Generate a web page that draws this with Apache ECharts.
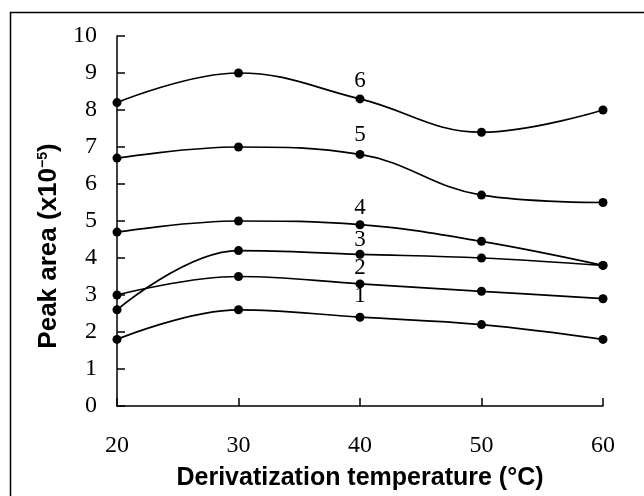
<!DOCTYPE html>
<html>
<head>
<meta charset="utf-8">
<script src="https://cdn.jsdelivr.net/npm/echarts@6/dist/echarts.min.js"></script>
<style>
  html, body { margin: 0; padding: 0; background: #fff; }
  #chart { width: 644px; height: 496px; }
</style>
</head>
<body>
<div id="chart"></div>
<script>
// derivatization temperature (°C)
const temps = [20, 30, 40, 50, 60];

// peak area (x10^-5), one curve per compound
const curve1 = [1.8, 2.6, 2.4, 2.2, 1.8];
const curve2 = [3.0, 3.5, 3.3, 3.1, 2.9];
const curve3 = [2.6, 4.2, 4.1, 4.0, 3.8];
const curve4 = [4.7, 5.0, 4.9, 4.45, 3.8];
const curve5 = [6.7, 7.0, 6.8, 5.7, 5.5];
const curve6 = [8.2, 9.0, 8.3, 7.4, 8.0];

const curveNames = ['1', '2', '3', '4', '5', '6'];
const curves = [curve1, curve2, curve3, curve4, curve5, curve6];

// how far the number label sits above the 40 °C point
const labelGap = [5, 0, -2, 1, 3, 2];

const chart = echarts.init(document.getElementById('chart'));

const series = curves.map((vals, i) => ({
    name: curveNames[i],
    type: 'line',
    smooth: 0.4,
    symbol: 'circle',
    symbolSize: 9,
    lineStyle: { color: '#000', width: 1.7 },
    itemStyle: { color: '#000' },
    emphasis: { disabled: true },
    data: vals.map((v, j) => {
        const item = { value: [temps[j], v] };
        if (j === 2) {
            item.label = {
                show: true,
                position: 'top',
                distance: labelGap[i],
                formatter: curveNames[i],
                color: '#000',
                fontFamily: 'Liberation Serif',
                fontSize: 23
            };
        }
        return item;
    })
}));

const option = {
    backgroundColor: '#fff',
    animation: false,
    graphic: [{
        type: 'rect',
        shape: { x: 10.5, y: 12.5, width: 700, height: 600 },
        style: { fill: 'none', stroke: '#000', lineWidth: 1.5 },
        silent: true
    }],
    grid: { left: 117, right: 41, top: 36, bottom: 89 },
    xAxis: {
        type: 'value',
        min: 20,
        max: 60,
        interval: 10,
        name: 'Derivatization temperature (°C)',
        nameLocation: 'middle',
        nameGap: 60,
        nameTextStyle: { fontFamily: 'Liberation Sans', fontWeight: 'bold', fontSize: 25, color: '#000' },
        axisLine: { lineStyle: { color: '#000', width: 1.5 } },
        axisTick: { inside: true, length: 8, lineStyle: { color: '#000', width: 1.5 } },
        axisLabel: { margin: 28, fontFamily: 'Liberation Serif', fontSize: 24, color: '#000' },
        splitLine: { show: false }
    },
    yAxis: {
        type: 'value',
        min: 0,
        max: 10,
        interval: 1,
        name: '{a|Peak area (x10}{s|−5}{a|)}',
        nameLocation: 'middle',
        nameGap: 48,
        nameRotate: 90,
        nameTextStyle: {
            padding: [0, 50, 0, 0],
            rich: {
                a: { fontFamily: 'Liberation Sans', fontWeight: 'bold', fontSize: 26, color: '#000' },
                s: { fontFamily: 'Liberation Sans', fontWeight: 'bold', fontSize: 14, color: '#000', padding: [0, 0, 12, 0] }
            }
        },
        axisLine: { show: true, lineStyle: { color: '#000', width: 1.5 } },
        axisTick: { show: true, inside: true, length: 8, lineStyle: { color: '#000', width: 1.5 } },
        axisLabel: { margin: 20, fontFamily: 'Liberation Serif', fontSize: 24, color: '#000' },
        splitLine: { show: false }
    },
    series: series
};

chart.setOption(option);
</script>
</body>
</html>
